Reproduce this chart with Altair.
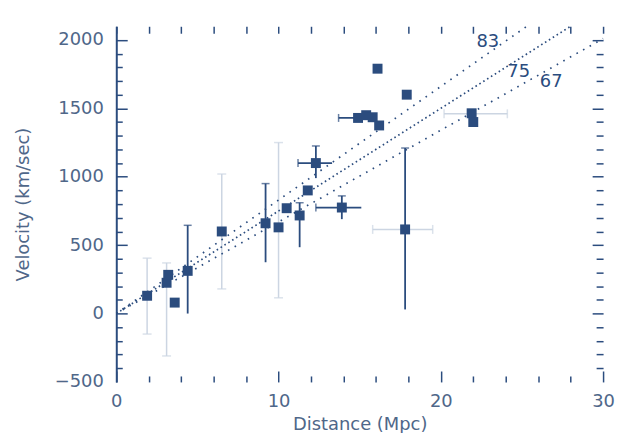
import altair as alt
import pandas as pd

# ---- data ----
dist = [1.9, 3.1, 3.2, 3.6, 4.4, 6.5, 9.2, 10.0, 10.5, 11.3, 11.8, 12.3, 13.9,
        14.9, 15.4, 15.8, 16.2, 16.1, 17.9, 17.8, 21.9, 22.0]
vel = [130, 225, 283, 80, 312, 600, 660, 630, 770, 717, 900, 1100, 775,
       1430, 1450, 1435, 1375, 1790, 1600, 615, 1464, 1400]

# dark vertical error bars
ev_d = [4.4, 9.2, 11.3, 12.3, 13.9, 17.8]
ev_lo = [0, 375, 485, 990, 690, 30]
ev_hi = [645, 950, 810, 1225, 860, 1210]
# dark horizontal error bars
eh_v = [1100, 775, 1430]
eh_lo = [11.2, 12.3, 13.7]
eh_hi = [13.3, 15.1, 16.0]
# faint vertical error bars
fv_d = [1.9, 3.1, 6.5, 10.0]
fv_lo = [-150, -310, 180, 115]
fv_hi = [405, 370, 1020, 1250]
# faint horizontal error bars
fh_v = [615, 1460]
fh_lo = [15.8, 20.2]
fh_hi = [19.5, 24.1]

# Hubble-constant lines
h0 = [83, 75, 67]
h0_label = ["83", "75", "67"]
line_end = [25.3, 28.0, 30.0]
label_d = [22.9, 24.8, 26.8]
label_v = [1985, 1768, 1696]

x_label_vals = [0, 10, 20, 30]
x_minor = [2, 4, 6, 8, 12, 14, 16, 18, 22, 24, 26, 28]
y_label_vals = [-500, 0, 500, 1000, 1500, 2000]
y_major = [0, 500, 1000, 1500, 2000]
y_minor = [v for v in range(-400, 2100, 100) if v % 500 != 0]

# ---- tables ----
pts = pd.DataFrame({"d": dist, "v": vel})
ev = pd.DataFrame({"d": ev_d, "lo": ev_lo, "hi": ev_hi})
eh = pd.DataFrame({"v": eh_v, "lo": eh_lo, "hi": eh_hi})
fv = pd.DataFrame({"d": fv_d, "lo": fv_lo, "hi": fv_hi})
fh = pd.DataFrame({"v": fh_v, "lo": fh_lo, "hi": fh_hi})
lines = pd.DataFrame({
    "H": h0, "x0": [0, 0, 0], "y0": [0, 0, 0],
    "x1": line_end, "y1": [h * e for h, e in zip(h0, line_end)],
})
labs = pd.DataFrame({"t": h0_label, "d": label_d, "v": label_v})

DARK = "#2b4c7e"
TEXT = "#4f6789"
FAINT = "#ccd5e2"
FONT = "DejaVu Sans"

xs = alt.Scale(domain=[0, 30], nice=False, zero=False)
ys = alt.Scale(domain=[-500, 2100], nice=False, zero=False)


def tick_axis(orient, values, size):
    return alt.Axis(orient=orient, values=values, labels=False, domain=False,
                    ticks=True, tickSize=size, offset=-size, tickColor=DARK,
                    tickWidth=1.5, grid=False, title=None)


def axis_layer(xaxis, yaxis):
    return alt.Chart(pts).mark_point(opacity=0).encode(
        x=alt.X("d:Q", scale=xs, axis=xaxis),
        y=alt.Y("v:Q", scale=ys, axis=yaxis),
    )


main_axes = alt.Chart(pts).mark_point(opacity=0).encode(
    x=alt.X("d:Q", scale=xs, axis=alt.Axis(
        orient="bottom", values=x_label_vals, format="d", ticks=False,
        domain=False, grid=False, labelFlush=False, labelPadding=11,
        labelFont=FONT, labelFontSize=18, labelColor=TEXT,
        title="Distance (Mpc)", titleFont=FONT, titleFontSize=18,
        titleFontWeight="normal", titleColor=TEXT, titlePadding=5)),
    y=alt.Y("v:Q", scale=ys, axis=alt.Axis(
        orient="left", values=y_label_vals, format="d", ticks=False,
        domain=True, domainColor=DARK, domainWidth=2, grid=False,
        labelFlush=False, labelPadding=13, labelFont=FONT, labelFontSize=18,
        labelColor=TEXT, title="Velocity (km/sec)", titleFont=FONT,
        titleFontSize=18, titleFontWeight="normal", titleColor=TEXT,
        titlePadding=22)),
)

ax_minor1 = axis_layer(tick_axis("bottom", x_minor, 6), tick_axis("left", y_minor, 6))
ax_major1 = axis_layer(tick_axis("bottom", x_label_vals, 11), tick_axis("left", y_major, 11))
ax_minor2 = axis_layer(tick_axis("top", x_minor, 7), tick_axis("right", y_minor, 7))
ax_major2 = axis_layer(tick_axis("top", x_label_vals, 7), tick_axis("right", y_major, 11))

hlines = alt.Chart(lines).mark_rule(color=DARK, strokeWidth=1.7).encode(
    x=alt.X("x0:Q", scale=xs, axis=None),
    y=alt.Y("y0:Q", scale=ys, axis=None),
    x2="x1:Q", y2="y1:Q",
    strokeDash=alt.condition(alt.datum.H == 75, alt.value([1.6, 3]), alt.value([1.6, 6])),
)

hlabels = alt.Chart(labs).mark_text(font=FONT, fontSize=18, color=DARK).encode(
    x=alt.X("d:Q", scale=xs, axis=None),
    y=alt.Y("v:Q", scale=ys, axis=None),
    text="t:N",
)

fv_rule = alt.Chart(fv).mark_rule(color=FAINT, strokeWidth=1.5).encode(
    x=alt.X("d:Q", scale=xs, axis=None), y=alt.Y("lo:Q", scale=ys, axis=None), y2="hi:Q")
fh_rule = alt.Chart(fh).mark_rule(color=FAINT, strokeWidth=1.5).encode(
    x=alt.X("lo:Q", scale=xs, axis=None), x2="hi:Q", y=alt.Y("v:Q", scale=ys, axis=None))
fv_cap_lo = alt.Chart(fv).mark_tick(color=FAINT, orient="horizontal", size=9, thickness=1.5).encode(
    x=alt.X("d:Q", scale=xs, axis=None), y=alt.Y("lo:Q", scale=ys, axis=None))
fv_cap_hi = alt.Chart(fv).mark_tick(color=FAINT, orient="horizontal", size=9, thickness=1.5).encode(
    x=alt.X("d:Q", scale=xs, axis=None), y=alt.Y("hi:Q", scale=ys, axis=None))
fh_cap_lo = alt.Chart(fh).mark_tick(color=FAINT, orient="vertical", size=9, thickness=1.5).encode(
    x=alt.X("lo:Q", scale=xs, axis=None), y=alt.Y("v:Q", scale=ys, axis=None))
fh_cap_hi = alt.Chart(fh).mark_tick(color=FAINT, orient="vertical", size=9, thickness=1.5).encode(
    x=alt.X("hi:Q", scale=xs, axis=None), y=alt.Y("v:Q", scale=ys, axis=None))

ev_rule = alt.Chart(ev).mark_rule(color=DARK, strokeWidth=1.8).encode(
    x=alt.X("d:Q", scale=xs, axis=None), y=alt.Y("lo:Q", scale=ys, axis=None), y2="hi:Q")
eh_rule = alt.Chart(eh).mark_rule(color=DARK, strokeWidth=1.8).encode(
    x=alt.X("lo:Q", scale=xs, axis=None), x2="hi:Q", y=alt.Y("v:Q", scale=ys, axis=None))
ev_cap_hi = alt.Chart(ev).mark_tick(color=DARK, orient="horizontal", size=8, thickness=1.5).encode(
    x=alt.X("d:Q", scale=xs, axis=None), y=alt.Y("hi:Q", scale=ys, axis=None))
eh_cap_lo = alt.Chart(eh).mark_tick(color=DARK, orient="vertical", size=8, thickness=1.5).encode(
    x=alt.X("lo:Q", scale=xs, axis=None), y=alt.Y("v:Q", scale=ys, axis=None))

points = alt.Chart(pts).mark_point(shape="square", filled=True, size=100, color=DARK, opacity=1).encode(
    x=alt.X("d:Q", scale=xs, axis=None),
    y=alt.Y("v:Q", scale=ys, axis=None),
)

chart = alt.layer(
    main_axes, ax_minor1, ax_major1, ax_minor2, ax_major2,
    fv_rule, fh_rule, fv_cap_lo, fv_cap_hi, fh_cap_lo, fh_cap_hi,
    hlines, hlabels,
    ev_rule, eh_rule, ev_cap_hi, eh_cap_lo,
    points,
).resolve_axis(x="independent", y="independent").properties(
    width=490, height=358,
    autosize=alt.AutoSizeParams(type="none"),
    padding={"left": 109, "top": 17, "right": 12, "bottom": 50},
    background="white",
).configure_view(stroke=None)

chart.save("out.html", embed_options={"renderer": "svg", "actions": False})
